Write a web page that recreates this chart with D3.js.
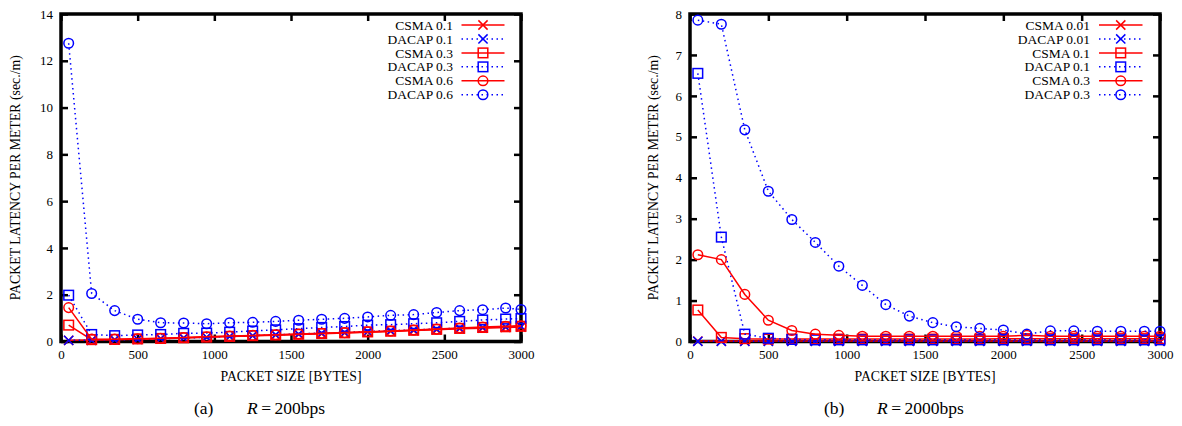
<!DOCTYPE html>
<html><head><meta charset="utf-8">
<script src="https://cdn.jsdelivr.net/npm/d3@7"></script>
<style>
body{margin:0;background:#fff}
text{font-family:"Liberation Serif","Times New Roman",serif;fill:#000}
</style>
</head><body>
<svg id="c" width="1182" height="426"></svg>
<script>
// ---------- data ----------
const packetSizes = [50,200,350,500,650,800,950,1100,1250,1400,1550,1700,1850,2000,2150,2300,2450,2600,2750,2900,3000];
const xTickValues = [0,500,1000,1500,2000,2500,3000];

// Panel (a) R = 200bps
const a_csma01  = [0.05,0.06,0.08,0.1,0.12,0.15,0.18,0.21,0.24,0.27,0.3,0.33,0.36,0.4,0.43,0.47,0.5,0.54,0.57,0.6,0.62];
const a_dacap01 = [0.05,0.05,0.07,0.09,0.12,0.15,0.18,0.22,0.25,0.29,0.32,0.36,0.39,0.43,0.46,0.5,0.53,0.57,0.6,0.63,0.65];
const a_csma03  = [0.7,0.08,0.09,0.11,0.13,0.16,0.19,0.22,0.25,0.28,0.31,0.34,0.37,0.41,0.44,0.48,0.52,0.56,0.6,0.63,0.65];
const a_dacap03 = [1.98,0.3,0.25,0.28,0.3,0.35,0.36,0.4,0.45,0.5,0.55,0.6,0.64,0.7,0.72,0.76,0.8,0.86,0.92,0.96,0.98];
const a_csma06  = [1.45,0.1,0.1,0.12,0.14,0.17,0.2,0.23,0.26,0.29,0.32,0.35,0.38,0.42,0.45,0.49,0.53,0.58,0.62,0.65,0.67];
const a_dacap06 = [12.75,2.05,1.32,0.95,0.8,0.79,0.76,0.8,0.82,0.86,0.91,0.95,0.99,1.05,1.12,1.15,1.24,1.32,1.36,1.43,1.37];
const a_labels  = ["CSMA 0.1","DACAP 0.1","CSMA 0.3","DACAP 0.3","CSMA 0.6","DACAP 0.6"];
const a_yTicks  = [0,2,4,6,8,10,12,14];

// Panel (b) R = 2000bps
const b_csma001  = [0.01,0.01,0.01,0.01,0.01,0.01,0.01,0.01,0.01,0.01,0.01,0.01,0.01,0.01,0.01,0.01,0.01,0.01,0.01,0.01,0.01];
const b_dacap001 = [0.005,0.005,0.005,0.005,0.005,0.005,0.005,0.005,0.005,0.005,0.005,0.005,0.005,0.005,0.005,0.005,0.005,0.005,0.005,0.005,0.005];
const b_csma01   = [0.77,0.1,0.07,0.06,0.06,0.06,0.06,0.06,0.06,0.06,0.06,0.06,0.06,0.07,0.07,0.07,0.07,0.07,0.07,0.07,0.07];
const b_dacap01  = [6.55,2.55,0.18,0.08,0.05,0.04,0.04,0.04,0.04,0.04,0.04,0.04,0.04,0.04,0.04,0.04,0.04,0.04,0.04,0.04,0.04];
const b_csma03   = [2.12,2.0,1.15,0.52,0.27,0.18,0.15,0.13,0.13,0.13,0.13,0.13,0.13,0.13,0.15,0.13,0.13,0.13,0.13,0.13,0.13];
const b_dacap03  = [7.85,7.75,5.17,3.67,2.98,2.42,1.84,1.37,0.9,0.62,0.46,0.36,0.32,0.28,0.18,0.26,0.26,0.25,0.25,0.25,0.25];
const b_labels   = ["CSMA 0.01","DACAP 0.01","CSMA 0.1","DACAP 0.1","CSMA 0.3","DACAP 0.3"];
const b_yTicks   = [0,1,2,3,4,5,6,7,8];

const yTitle = "PACKET LATENCY PER METER (sec./m)";
const xTitle = "PACKET SIZE [BYTES]";

// ---------- drawing ----------
const svg = d3.select("#c");
const RED = "#ff0000", BLUE = "#0000ff";
const markerKinds = ["x","x","square","square","circle","circle"];

function drawMarker(g, kind, cx, cy, color) {
  if (kind === "x") {
    const s = 4.6;
    g.append("path").attr("d", `M${cx-s},${cy-s}L${cx+s},${cy+s}M${cx-s},${cy+s}L${cx+s},${cy-s}`)
      .attr("stroke", color).attr("stroke-width", 1.5).attr("fill", "none");
  } else if (kind === "square") {
    const s = 4.8;
    g.append("rect").attr("x", cx-s).attr("y", cy-s).attr("width", 2*s).attr("height", 2*s)
      .attr("stroke", color).attr("stroke-width", 1.5).attr("fill", "none");
  } else {
    g.append("circle").attr("cx", cx).attr("cy", cy).attr("r", 4.8)
      .attr("stroke", color).attr("stroke-width", 1.5).attr("fill", "none");
  }
}

function drawPanel(cfg) {
  const {L, R, T, B, yMax, yTicks, seriesVals, labels} = cfg;
  const x = d3.scaleLinear().domain([0, 3000]).range([L, R]);
  const y = d3.scaleLinear().domain([0, yMax]).range([B, T]);
  const g = svg.append("g");

  const styleAxis = sel => {
    sel.attr("font-family", null);
    sel.select(".domain").remove();
    sel.selectAll(".tick line").attr("stroke", "#000").attr("stroke-width", 2.5);
    sel.selectAll(".tick text").attr("font-size", 13).attr("fill", "#000");
  };
  g.append("g").attr("transform", `translate(0,${B})`)
    .call(d3.axisBottom(x).tickValues(xTickValues).tickSize(-7).tickPadding(8.5).tickFormat(d3.format("d")))
    .call(styleAxis);
  g.append("g").attr("transform", `translate(0,${T})`)
    .call(d3.axisTop(x).tickValues(xTickValues).tickSize(-7).tickFormat(""))
    .call(styleAxis);
  g.append("g").attr("transform", `translate(${L},0)`)
    .call(d3.axisLeft(y).tickValues(yTicks).tickSize(-7).tickPadding(8).tickFormat(d3.format("d")))
    .call(styleAxis);
  g.append("g").attr("transform", `translate(${R},0)`)
    .call(d3.axisRight(y).tickValues(yTicks).tickSize(-7).tickFormat(""))
    .call(styleAxis);

  // frame
  g.append("rect").attr("x", L).attr("y", T).attr("width", R-L).attr("height", B-T)
    .attr("fill", "none").attr("stroke", "#000").attr("stroke-width", 3.5);

  // series
  const line = d3.line().x((d, i) => x(packetSizes[i])).y(d => y(d));
  seriesVals.forEach((vals, si) => {
    const color = si % 2 === 0 ? RED : BLUE;
    const dashed = si % 2 === 1;
    const sg = g.append("g");
    sg.append("path").datum(vals).attr("d", line).attr("fill", "none")
      .attr("stroke", color).attr("stroke-width", 1.5)
      .attr("stroke-dasharray", dashed ? "1.5,3.5" : null);
    vals.forEach((v, i) => drawMarker(sg, markerKinds[si], x(packetSizes[i]), y(v), color));
  });

  // legend
  labels.forEach((lab, si) => {
    const color = si % 2 === 0 ? RED : BLUE;
    const dashed = si % 2 === 1;
    const ly = 25 + si * 13.95;
    g.append("text").attr("x", cfg.legTextX).attr("y", ly + 4.6).attr("text-anchor", "end")
      .attr("font-size", 13.5).text(lab);
    g.append("line").attr("x1", cfg.legS0).attr("x2", cfg.legS1).attr("y1", ly).attr("y2", ly)
      .attr("stroke", color).attr("stroke-width", 1.5).attr("stroke-dasharray", dashed ? "1.5,3.5" : null);
    drawMarker(g, markerKinds[si], (cfg.legS0 + cfg.legS1) / 2, ly, color);
  });

  // titles
  g.append("text").attr("transform", `translate(${cfg.yTitleX},${(T+B)/2}) rotate(-90)`)
    .attr("text-anchor", "middle").attr("font-size", 13.8).text(yTitle);
  g.append("text").attr("x", (L+R)/2).attr("y", 381).attr("text-anchor", "middle")
    .attr("font-size", 13.8).text(xTitle);

  // caption
  const cap = g.append("text").attr("y", 414).attr("font-size", 17.5);
  cap.append("tspan").attr("x", cfg.capX[0]).text(cfg.capTag);
  cap.append("tspan").attr("x", cfg.capX[1]).attr("font-style", "italic").text("R");
  cap.append("tspan").text("\u2009=\u2009" + cfg.capRate);
}

drawPanel({L: 61, R: 521, T: 14, B: 341.5, yMax: 14, yTicks: a_yTicks,
  seriesVals: [a_csma01, a_dacap01, a_csma03, a_dacap03, a_csma06, a_dacap06], labels: a_labels,
  legTextX: 453, legS0: 461.5, legS1: 504.5, yTitleX: 19.5,
  capX: [194, 247], capTag: "(a)", capRate: "200bps"});

drawPanel({L: 690, R: 1160, T: 14, B: 341.5, yMax: 8, yTicks: b_yTicks,
  seriesVals: [b_csma001, b_dacap001, b_csma01, b_dacap01, b_csma03, b_dacap03], labels: b_labels,
  legTextX: 1090, legS0: 1099, legS1: 1142.5, yTitleX: 658,
  capX: [824, 877], capTag: "(b)", capRate: "2000bps"});
</script>
</body></html>
